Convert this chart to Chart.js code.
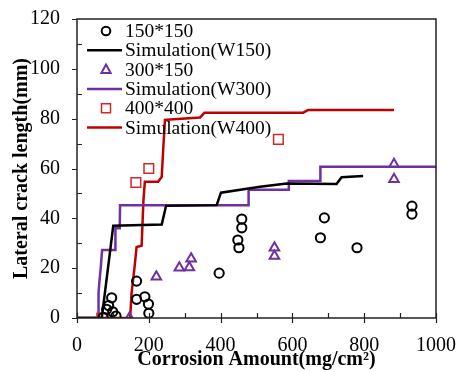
<!DOCTYPE html>
<html>
<head>
<meta charset="utf-8">
<script src="https://cdn.jsdelivr.net/npm/chart.js@4/dist/chart.umd.min.js"></script>
<style>
    html, body { margin: 0; padding: 0; background: #fff; }
    #wrap { width: 460px; height: 372px; }
</style>
</head>
<body>
<div id="wrap"><canvas id="crack-chart" width="460" height="372"></canvas></div>
<script>
// measured specimens (corrosion amount, crack length)
const circles150 = [[73, 0.3], [82.6, 3.5], [88, 5], [96.6, 8.1], [99.4, 2.5], [108.6, 0.8],
    [166, 14.8], [166, 7.5], [189, 8.5], [199, 5.6], [200, 1.9], [396, 18], [451, 28.2],
    [448, 31.3], [459, 36.2], [459, 39.7], [678, 32.2], [689, 40.2], [780, 28.2],
    [933, 44.9], [933, 41.7]];
const triangles300 = [[146, 0], [221, 16.6], [285, 20.2], [313, 20.3], [318, 23.8],
    [550, 28.2], [550, 24.9], [883, 61.7], [883, 55.7]];
const squares400 = [[69, 0], [164, 54.4], [200, 60], [561, 71.7]];

// simulation curves
const simW150 = [[0, 0], [69, 0], [101, 37], [236, 37.5], [248, 45], [389, 45.3], [401, 50.3],
    [510, 52.7], [584, 54], [723, 53.8], [737, 56.5], [797, 57]];
const simW300 = [[0, 0], [59, 0], [60, 10], [62, 14], [66, 20], [70, 27.3], [106, 27.3],
    [107, 36], [119, 36], [120, 45.3], [477, 45.3], [478, 51.5], [589, 51.5], [590, 55],
    [677, 55], [678, 60.7], [1000, 60.7]];
const simW400 = [[0, 0], [148, 0], [152, 10], [160, 20], [166, 28.5], [180, 29], [185, 47],
    [189, 54.7], [226, 54.7], [236, 56.7], [241, 70], [245, 79.5], [259, 79.7], [343, 80.5],
    [355, 82.4], [630, 82.4], [644, 83.5], [883, 83.5]];

const seriesNames = ['150*150', 'Simulation(W150)', '300*150', 'Simulation(W300)', '400*400', 'Simulation(W400)'];
const xTicks = [0, 200, 400, 600, 800, 1000];
const yTicks = [0, 20, 40, 60, 80, 100, 120];

const BLACK = '#000000';
const PURPLE = '#7030A0';
const RED = '#C00000';
const SQ_RED = '#D02828';
const SERIF = '"Liberation Serif", "Times New Roman", serif';

const toXY = arr => arr.map(p => ({ x: p[0], y: p[1] }));

function markerSet(label, pts, style, color, radius, width) {
    return {
        type: 'scatter', label: label, data: toXY(pts),
        pointStyle: style, pointRadius: radius, pointHoverRadius: radius,
        borderColor: color, backgroundColor: 'rgba(0,0,0,0)', pointBorderWidth: width,
        order: 0
    };
}

function simSet(label, pts, color) {
    return {
        type: 'line', label: label, data: toXY(pts),
        borderColor: color, borderWidth: 2.5, pointRadius: 0, tension: 0,
        fill: false, order: 1
    };
}

// frame, inward/outward ticks and the legend inside the plot
const decorations = {
    id: 'decorations',
    afterDraw(chart) {
        const ctx = chart.ctx;
        const a = chart.chartArea;
        const xs = chart.scales.x, ys = chart.scales.y;
        ctx.save();
        ctx.strokeStyle = '#222';
        ctx.lineWidth = 1.5;
        ctx.strokeRect(a.left, a.top, a.right - a.left, a.bottom - a.top);

        ctx.lineWidth = 1.2;
        ctx.beginPath();
        for (let v = 0; v <= 1000; v += 100) {
            const px = Math.round(xs.getPixelForValue(v)) + 0.5;
            const major = v % 200 === 0;
            ctx.moveTo(px, a.bottom + (major ? 5 : 0));
            ctx.lineTo(px, a.bottom - 5);
        }
        for (let v = 0; v <= 120; v += 10) {
            const py = Math.round(ys.getPixelForValue(v)) + 0.5;
            const major = v % 20 === 0;
            ctx.moveTo(a.left - (major ? 5 : 0), py);
            ctx.lineTo(a.left + (major ? 0 : 5), py);
        }
        ctx.stroke();

        // legend
        const rowY0 = 31, rowH = 19.3;
        ctx.font = '19.5px ' + SERIF;
        ctx.textBaseline = 'middle';
        chart.data.datasets.forEach((ds, i) => {
            const y = rowY0 + i * rowH;
            ctx.strokeStyle = ds.borderColor;
            if (ds.type === 'line') {
                ctx.lineWidth = 2.5;
                ctx.beginPath();
                ctx.moveTo(87, y);
                ctx.lineTo(122, y);
                ctx.stroke();
            } else {
                ctx.lineWidth = ds.pointBorderWidth;
                ctx.beginPath();
                if (ds.pointStyle === 'circle') {
                    ctx.arc(106, y, 4.3, 0, Math.PI * 2);
                } else if (ds.pointStyle === 'triangle') {
                    ctx.moveTo(106, y - 5);
                    ctx.lineTo(106 + 4.6, y + 3.3);
                    ctx.lineTo(106 - 4.6, y + 3.3);
                    ctx.closePath();
                } else {
                    ctx.rect(101.5, y - 4.5, 9, 9);
                }
                ctx.stroke();
            }
            ctx.fillStyle = '#000';
            ctx.fillText(ds.label, 125, y + 1);
        });
        ctx.restore();
    }
};

document.addEventListener('DOMContentLoaded', () => {
    const ctx = document.getElementById('crack-chart').getContext('2d');
    new Chart(ctx, {
        data: {
            datasets: [
                markerSet(seriesNames[0], circles150, 'circle', BLACK, 4.6, 2),
                simSet(seriesNames[1], simW150, BLACK),
                markerSet(seriesNames[2], triangles300, 'triangle', PURPLE, 5.5, 2),
                simSet(seriesNames[3], simW300, PURPLE),
                markerSet(seriesNames[4], squares400, 'rect', SQ_RED, 6.8, 1.5),
                simSet(seriesNames[5], simW400, RED)
            ]
        },
        options: {
            responsive: false,
            animation: false,
            layout: { padding: { left: 0, right: 24, top: 19, bottom: 0 } },
            plugins: { legend: { display: false }, tooltip: { enabled: false } },
            scales: {
                x: {
                    type: 'linear', min: 0, max: 1000,
                    afterBuildTicks: s => { s.ticks = xTicks.map(v => ({ value: v })); },
                    afterFit: s => { s.height = 54; s.paddingLeft = 0; s.paddingRight = 0; },
                    grid: { display: false, drawTicks: false },
                    border: { display: false },
                    ticks: {
                        color: '#000', padding: 16, maxRotation: 0,
                        font: { family: SERIF, size: 20 },
                        callback: v => String(v)
                    },
                    title: {
                        display: true, text: 'Corrosion Amount(mg/cm²)', color: '#000',
                        padding: { top: 0, bottom: 0 },
                        font: { family: SERIF, size: 20, weight: 'bold' }
                    }
                },
                y: {
                    type: 'linear', min: 0, max: 120,
                    afterBuildTicks: s => { s.ticks = yTicks.map(v => ({ value: v })); },
                    afterFit: s => { s.width = 77; s.paddingTop = 0; s.paddingBottom = 0; },
                    grid: { display: false, drawTicks: false },
                    border: { display: false },
                    ticks: {
                        color: '#000', padding: 17,
                        font: { family: SERIF, size: 20 },
                        callback: v => String(v)
                    },
                    title: {
                        display: true, text: 'Lateral crack length(mm)', color: '#000',
                        padding: { top: 10, bottom: 0 },
                        font: { family: SERIF, size: 20, weight: 'bold' }
                    }
                }
            }
        },
        plugins: [decorations]
    });
});
</script>
</body>
</html>
